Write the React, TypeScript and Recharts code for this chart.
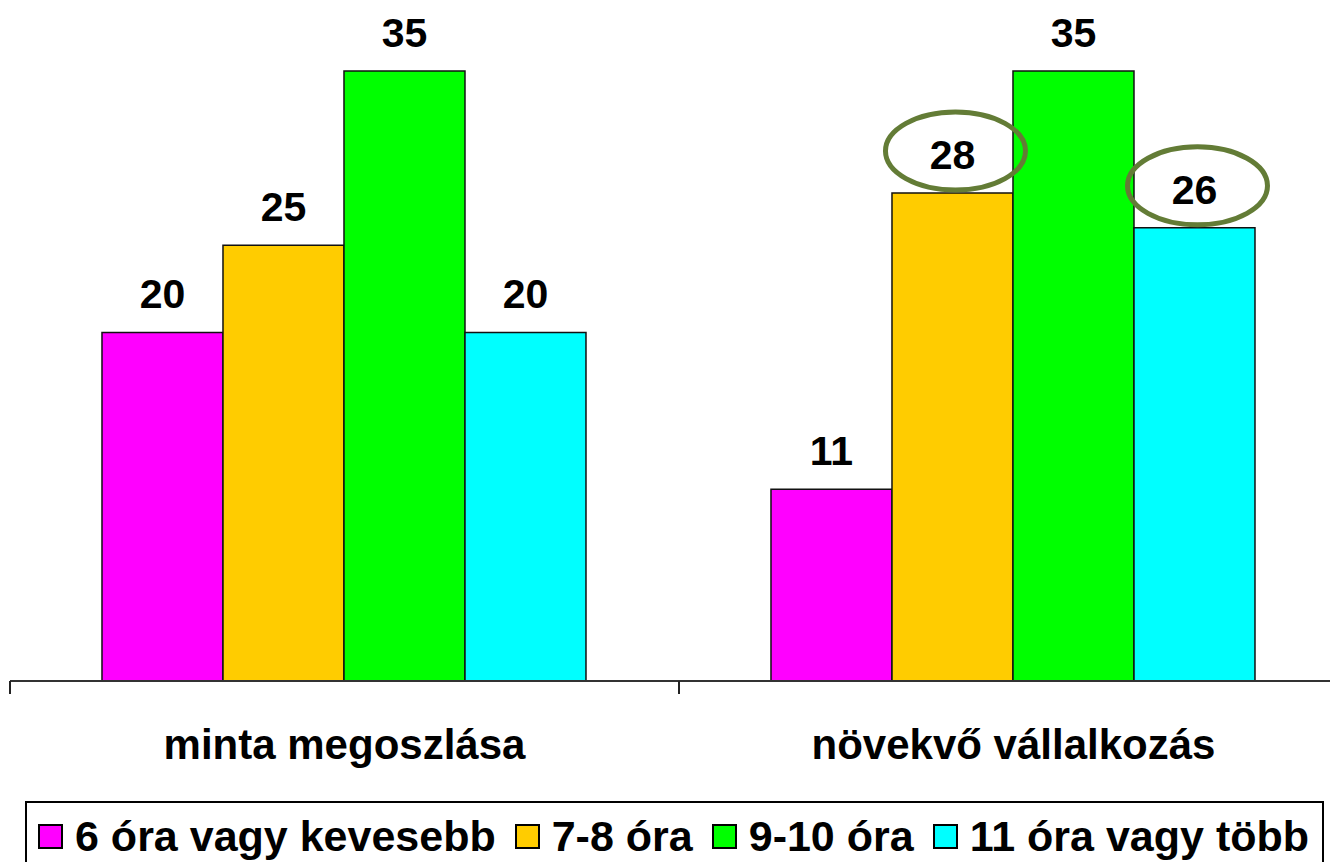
import React from "react"
import { BarChart, Bar, XAxis, YAxis, LabelList } from "recharts"

const categories = ["minta megoszlása", "növekvő vállalkozás"]
const seriesNames = ["6 óra vagy kevesebb", "7-8 óra", "9-10 óra", "11 óra vagy több"]
const seriesColors = ["#FF00FF", "#FFCC00", "#00FF00", "#00FFFF"]
const sixOrLess = [20, 11]
const sevenToEight = [25, 28]
const nineToTen = [35, 35]
const elevenOrMore = [20, 26]
// circled values: [series index, category index]
const circled = [
  [1, 1],
  [3, 1],
]

const seriesValues = [sixOrLess, sevenToEight, nineToTen, elevenOrMore]
const data = categories.map((name, i) => {
  const row: Record<string, string | number> = { name }
  seriesNames.forEach((s, k) => {
    row[s] = seriesValues[k][i]
  })
  return row
})

const FONT = '"Liberation Sans", Arial, sans-serif'

function CategoryTick(props: any) {
  const { x, y, payload, index } = props
  const half = payload?.offset ?? 0
  return (
    <g>
      <line x1={x - half} x2={x - half} y1={y} y2={y + 13} stroke="#222" strokeWidth={2} />
      {index === categories.length - 1 && (
        <line x1={x + half} x2={x + half} y1={y} y2={y + 13} stroke="#222" strokeWidth={2} />
      )}
      <text
        x={x}
        y={y + 78}
        textAnchor="middle"
        fontFamily={FONT}
        fontWeight="bold"
        fontSize={42}
        fill="#000"
      >
        {payload.value}
      </text>
    </g>
  )
}

function makeEllipse(seriesIdx: number) {
  return (props: any) => {
    const { x, y, width, index } = props
    const hit = circled.some(([s, c]) => s === seriesIdx && c === index)
    if (!hit) return null
    return (
      <ellipse
        cx={Number(x) + Number(width) / 2 + 3}
        cy={Number(y) - 42}
        rx={70}
        ry={39}
        fill="none"
        stroke="#637C36"
        strokeWidth={5}
      />
    )
  }
}

export default function App() {
  return (
    <div
      style={{
        position: "absolute",
        left: 0,
        top: 0,
        width: 1330,
        height: 862,
        overflow: "hidden",
        background: "#fff",
      }}
    >
      <BarChart
        width={1360}
        height={862}
        data={data}
        margin={{ top: 71, right: 12, left: 10, bottom: 81 }}
        barCategoryGap="13.75%"
        barGap={0}
      >
        <XAxis
          dataKey="name"
          height={100}
          axisLine={{ stroke: "#333", strokeWidth: 2 }}
          tickLine={false}
          tickSize={0}
          tickMargin={0}
          interval={0}
          tick={<CategoryTick />}
        />
        <YAxis hide domain={[0, 35]} />
        {seriesNames.map((s, k) => (
          <Bar
            key={s}
            dataKey={s}
            fill={seriesColors[k]}
            stroke="#111"
            strokeWidth={1.5}
            isAnimationActive={false}
          >
            <LabelList
              dataKey={s}
              position="top"
              offset={24}
              fontFamily={FONT}
              fontWeight="bold"
              fontSize={41}
              fill="#000"
            />
            <LabelList dataKey={s} content={makeEllipse(k)} />
          </Bar>
        ))}
      </BarChart>
      <div
        style={{
          position: "absolute",
          left: 25,
          top: 801,
          width: 1299,
          height: 80,
          border: "2px solid #000",
          display: "flex",
          alignItems: "flex-start",
          paddingLeft: 11,
          paddingTop: 17,
          boxSizing: "border-box",
          fontFamily: FONT,
          fontWeight: "bold",
          fontSize: 43,
          lineHeight: "32px",
          whiteSpace: "nowrap",
        }}
      >
        {seriesNames.map((s, k) => (
          <div key={s} style={{ display: "flex", alignItems: "center", marginRight: 19 }}>
            <div
              style={{
                width: 25,
                height: 25,
                boxSizing: "border-box",
                border: "2px solid #000",
                background: seriesColors[k],
                marginRight: 12,
              }}
            />
            <span>{s}</span>
          </div>
        ))}
      </div>
    </div>
  )
}
